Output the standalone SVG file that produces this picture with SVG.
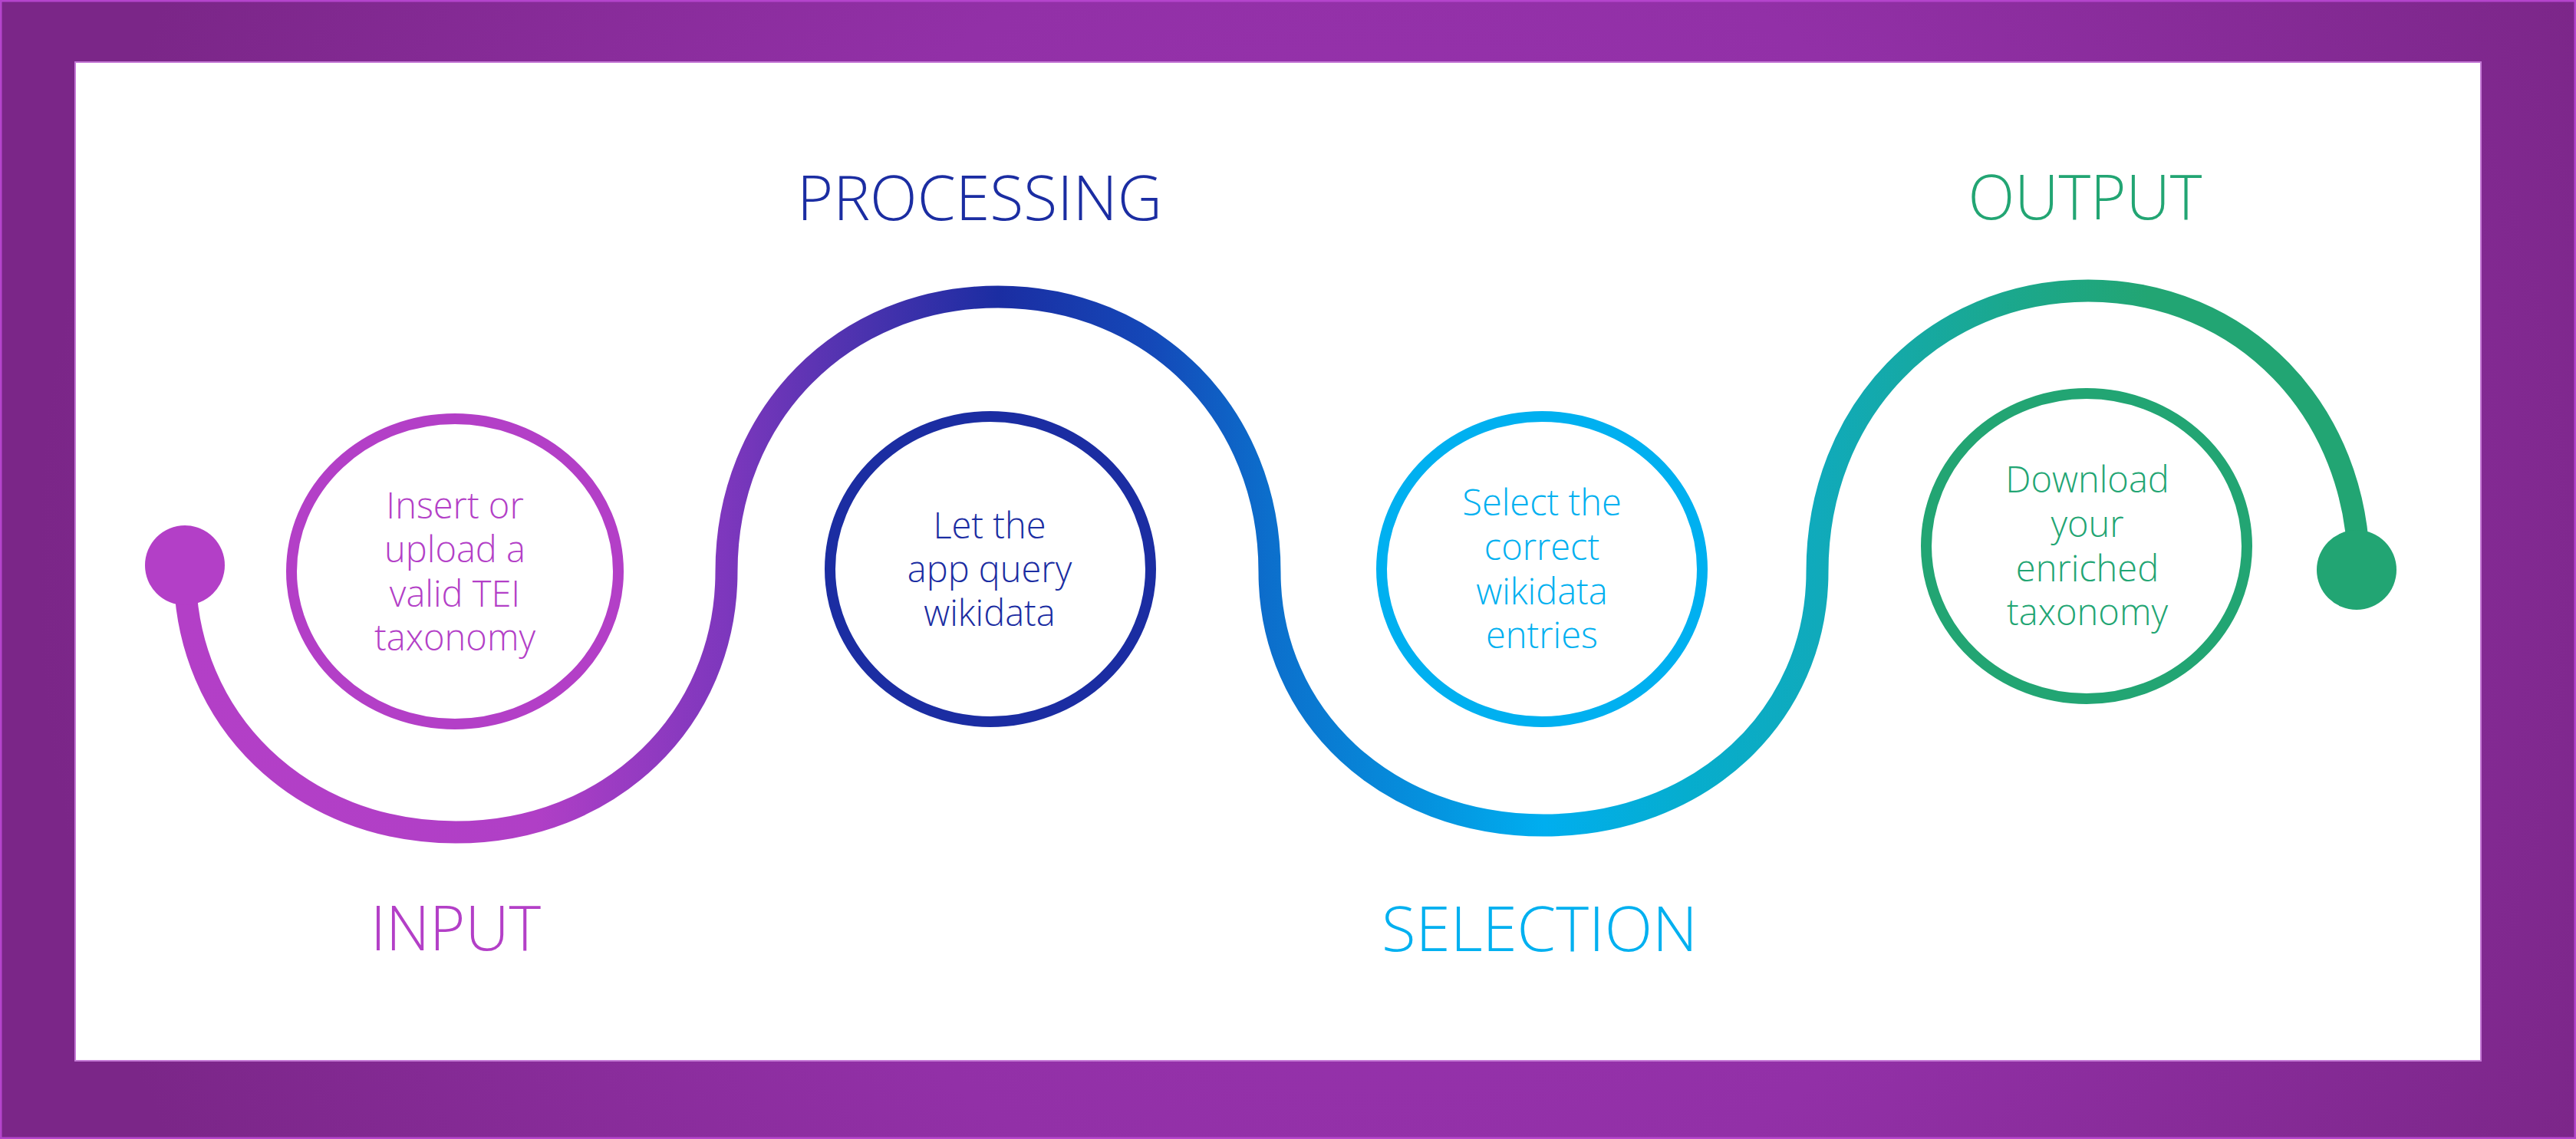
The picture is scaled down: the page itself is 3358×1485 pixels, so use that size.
<svg xmlns="http://www.w3.org/2000/svg" width="3358" height="1485" viewBox="0 0 3358 1485">
  <defs>
    <radialGradient id="bg" gradientUnits="userSpaceOnUse" cx="1800" cy="740" r="1750">
      <stop offset="0" stop-color="#9a34b0"/>
      <stop offset="0.5" stop-color="#9230a7"/>
      <stop offset="1" stop-color="#7b2688"/>
    </radialGradient>
    <linearGradient id="wave" gradientUnits="userSpaceOnUse" x1="241" y1="0" x2="3075" y2="0">
      <stop offset="0" stop-color="#b33fc7"/>
      <stop offset="0.162" stop-color="#b03fc6"/>
      <stop offset="0.249" stop-color="#7d37bd"/>
      <stop offset="0.303" stop-color="#5233b0"/>
      <stop offset="0.374" stop-color="#1b2da2"/>
      <stop offset="0.444" stop-color="#1448b8"/>
      <stop offset="0.499" stop-color="#0c6fcc"/>
      <stop offset="0.568" stop-color="#0590dd"/>
      <stop offset="0.625" stop-color="#00aeef"/>
      <stop offset="0.691" stop-color="#06adce"/>
      <stop offset="0.751" stop-color="#10aabb"/>
      <stop offset="0.833" stop-color="#1aa890"/>
      <stop offset="0.903" stop-color="#22a573"/>
      <stop offset="1" stop-color="#22a573"/>
    </linearGradient>
  </defs>
  <style>
    .ring { fill: #ffffff; stroke-width: 14; }
    .body { font-family: "Open Sans", "Lato", "Liberation Sans", sans-serif; font-weight: 300; font-size: 47px; text-anchor: middle; }
    .head { font-family: "Open Sans", "Lato", "Liberation Sans", sans-serif; font-weight: 300; font-size: 81px; text-anchor: middle; }
    .purple { fill: #b33fc7; }
    .navy { fill: #1b2da2; }
    .cyan { fill: #00b0f0; }
    .green { fill: #22a573; }
  </style>

  <g id="frame">
    <rect x="1" y="1" width="3356" height="1483" fill="url(#bg)" stroke="#b444cc" stroke-width="3"/>
    <rect x="98" y="81" width="3136" height="1302" fill="#ffffff" stroke="#c57ad6" stroke-width="2"/>
  </g>

  <g id="connectors">
    <path d="M 241,745 C 241,939 393,1085 594,1085 C 795,1085 947,939 947,745 C 947,541 1099,387 1301,387 C 1503,387 1655,541 1655,745 C 1655,934 1808,1076 2012,1076 C 2216,1076 2369,934 2369,745 C 2369,536 2521,379 2722,379 C 2923,379 3075,536 3075,745" fill="none" stroke="url(#wave)" stroke-width="29"/>
  </g>

  <g id="start-dot">
    <circle cx="241" cy="737" r="52" fill="#b33fc7"/>
  </g>
  <g id="end-dot">
    <circle cx="3072" cy="743" r="52" fill="#22a573"/>
  </g>

  <g id="input">
    <ellipse class="ring" cx="593" cy="745" rx="213" ry="199" stroke="#b33fc7"/>
    <text class="body purple" x="593" y="676">Insert or<tspan x="593" dy="57">upload a</tspan><tspan x="593" dy="58">valid TEI</tspan><tspan x="593" dy="57">taxonomy</tspan></text>
    <text class="head purple" x="594" y="1239" textLength="222" lengthAdjust="spacingAndGlyphs">INPUT</text>
  </g>

  <g id="processing">
    <ellipse class="ring" cx="1291" cy="742" rx="209" ry="199" stroke="#1b2da2"/>
    <text class="body navy" x="1290" y="702">Let the<tspan x="1290" dy="57">app query</tspan><tspan x="1290" dy="57">wikidata</tspan></text>
    <text class="head navy" x="1277" y="287" textLength="476" lengthAdjust="spacingAndGlyphs">PROCESSING</text>
  </g>

  <g id="selection">
    <ellipse class="ring" cx="2010" cy="742" rx="209" ry="199" stroke="#00b0f0"/>
    <text class="body cyan" x="2010" y="672">Select the<tspan x="2010" dy="58">correct</tspan><tspan x="2010" dy="58">wikidata</tspan><tspan x="2010" dy="57">entries</tspan></text>
    <text class="head cyan" x="2007" y="1240" textLength="412" lengthAdjust="spacingAndGlyphs">SELECTION</text>
  </g>

  <g id="output">
    <ellipse class="ring" cx="2720" cy="712" rx="209" ry="199" stroke="#22a573"/>
    <text class="body green" x="2721" y="642">Download<tspan x="2721" dy="58">your</tspan><tspan x="2721" dy="58">enriched</tspan><tspan x="2721" dy="57">taxonomy</tspan></text>
    <text class="head green" x="2718" y="286" textLength="305" lengthAdjust="spacingAndGlyphs">OUTPUT</text>
  </g>
</svg>
